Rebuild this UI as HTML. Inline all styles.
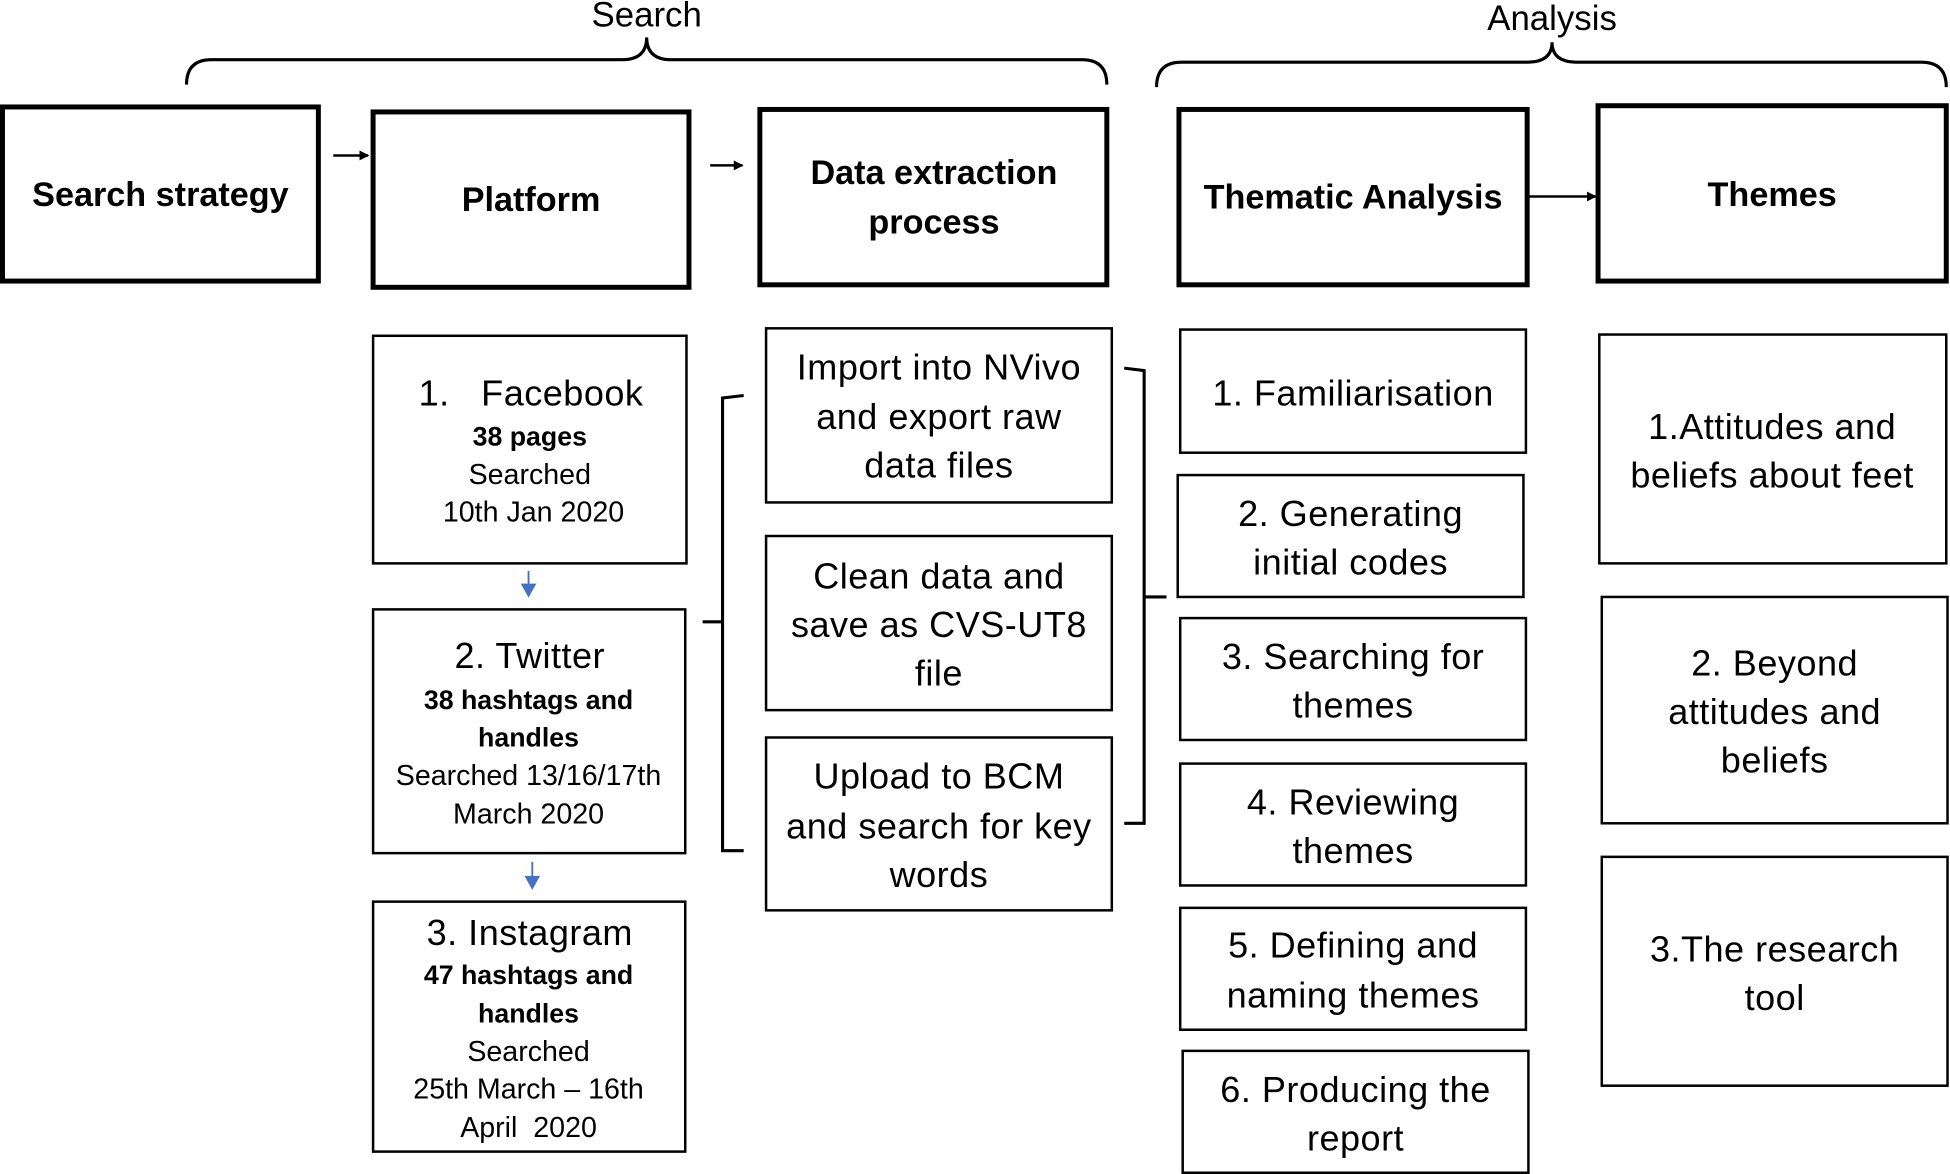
<!DOCTYPE html>
<html><head><meta charset="utf-8"><style>
html,body{margin:0;padding:0;background:#fff;}
svg{display:block;}
text{font-family:"Liberation Sans",sans-serif;fill:#000;dominant-baseline:central;text-anchor:middle;}
.t{font-size:29px;letter-spacing:0.4px;}
.s{font-size:23px;}
.b{font-size:21.5px;font-weight:bold;}
.h{font-size:27.5px;font-weight:bold;}
.top{font-size:28px;}
</style></head><body>
<svg width="1950" height="1174" viewBox="0 0 1568 944" xmlns="http://www.w3.org/2000/svg">
<defs>
<marker id="ah" markerWidth="8" markerHeight="8" refX="7" refY="4" orient="auto" markerUnits="userSpaceOnUse"><path d="M0,0 L8,4 L0,8 z" fill="#000"/></marker>
</defs>
<g fill="none" stroke="#000" stroke-width="2.5">
<path d="M150,68 Q150,48 170,48 L500,48 Q520,48 520,30 Q520,48 540,48 L870,48 Q890,48 890,68"/>
<path d="M930,70 Q930,50 950,50 L1228,50 Q1248,50 1248,34 Q1248,50 1268,50 L1545,50 Q1565,50 1565,70"/>
</g>
<text x="520" y="12" class="top">Search</text>
<text x="1248" y="15" class="top">Analysis</text>
<g fill="none" stroke="#000" stroke-width="4">
<rect x="2" y="86" width="254" height="140"/>
<rect x="300" y="90" width="254" height="141"/>
<rect x="611" y="88" width="279" height="141"/>
<rect x="948" y="88" width="280" height="141"/>
<rect x="1285" y="85" width="280" height="141"/>
</g>
<text x="129" y="157" class="h">Search strategy</text>
<text x="427" y="161" class="h">Platform</text>
<text x="751" y="139" class="h">Data extraction</text>
<text x="751" y="179" class="h">process</text>
<text x="1088" y="159" class="h">Thematic Analysis</text>
<text x="1425" y="157" class="h">Themes</text>
<g stroke="#000" stroke-width="2">
<line x1="268" y1="125" x2="296" y2="125" marker-end="url(#ah)"/>
<line x1="571" y1="133" x2="597" y2="133" marker-end="url(#ah)"/>
<line x1="1228" y1="158" x2="1283" y2="158" marker-end="url(#ah)"/>
</g>
<g stroke="#4472c4" stroke-width="1.5">
<line x1="425" y1="459" x2="425" y2="478"/><path d="M420,470 L425,479 L430,470 z" fill="#4472c4"/>
<line x1="428" y1="693" x2="428" y2="713"/><path d="M423,705 L428,714 L433,705 z" fill="#4472c4"/>
</g>
<g fill="none" stroke="#000" stroke-width="2">
<rect x="300" y="270" width="252" height="183"/>
<rect x="300" y="490" width="251" height="196"/>
<rect x="300" y="725" width="251" height="201"/>
<rect x="616" y="264" width="278" height="140"/>
<rect x="616" y="431" width="278" height="140"/>
<rect x="616" y="593" width="278" height="139"/>
<rect x="949" y="265" width="278" height="99"/>
<rect x="947" y="382" width="278" height="98"/>
<rect x="949" y="497" width="278" height="98"/>
<rect x="949" y="614" width="278" height="98"/>
<rect x="949" y="730" width="278" height="98"/>
<rect x="951" y="845" width="278" height="98"/>
<rect x="1286" y="269" width="279" height="184"/>
<rect x="1288" y="480" width="278" height="182"/>
<rect x="1288" y="689" width="278" height="184"/>
</g>
<g fill="none" stroke="#000" stroke-width="2.5">
<path d="M598,318 L581,320 L581,684 L598,684 M581,500 L565,500"/>
<path d="M904,296 L920,298 L920,662 L904,662 M920,480 L938,480"/>
</g>
<text x="427" y="316" class="t" xml:space="preserve">1.   Facebook</text>
<text x="426" y="351" class="b">38 pages</text>
<text x="426" y="382" class="s">Searched</text>
<text x="429" y="412" class="s">10th Jan 2020</text>
<text x="426" y="527" class="t">2. Twitter</text>
<text x="425" y="563" class="b">38 hashtags and</text>
<text x="425" y="593" class="b">handles</text>
<text x="425" y="624" class="s">Searched 13/16/17th</text>
<text x="425" y="655" class="s">March 2020</text>
<text x="426" y="750" class="t">3. Instagram</text>
<text x="425" y="784" class="b">47 hashtags and</text>
<text x="425" y="815" class="b">handles</text>
<text x="425" y="846" class="s">Searched</text>
<text x="425" y="876" class="s">25th March – 16th</text>
<text x="425" y="907" class="s" xml:space="preserve">April  2020</text>
<text x="755" y="295" class="t">Import into NVivo</text>
<text x="755" y="335" class="t">and export raw</text>
<text x="755" y="374" class="t">data files</text>
<text x="755" y="463" class="t">Clean data and</text>
<text x="755" y="502" class="t">save as CVS-UT8</text>
<text x="755" y="541" class="t">file</text>
<text x="755" y="624" class="t">Upload to BCM</text>
<text x="755" y="664" class="t">and search for key</text>
<text x="755" y="703" class="t">words</text>
<text x="1088" y="316" class="t">1. Familiarisation</text>
<text x="1086" y="413" class="t">2. Generating</text>
<text x="1086" y="452" class="t">initial codes</text>
<text x="1088" y="528" class="t">3. Searching for</text>
<text x="1088" y="567" class="t">themes</text>
<text x="1088" y="645" class="t">4. Reviewing</text>
<text x="1088" y="684" class="t">themes</text>
<text x="1088" y="760" class="t">5. Defining and</text>
<text x="1088" y="800" class="t">naming themes</text>
<text x="1090" y="876" class="t">6. Producing the</text>
<text x="1090" y="915" class="t">report</text>
<text x="1425" y="343" class="t">1.Attitudes and</text>
<text x="1425" y="382" class="t">beliefs about feet</text>
<text x="1427" y="533" class="t">2. Beyond</text>
<text x="1427" y="572" class="t">attitudes and</text>
<text x="1427" y="611" class="t">beliefs</text>
<text x="1427" y="763" class="t">3.The research</text>
<text x="1427" y="802" class="t">tool</text>
</svg>
</body></html>
